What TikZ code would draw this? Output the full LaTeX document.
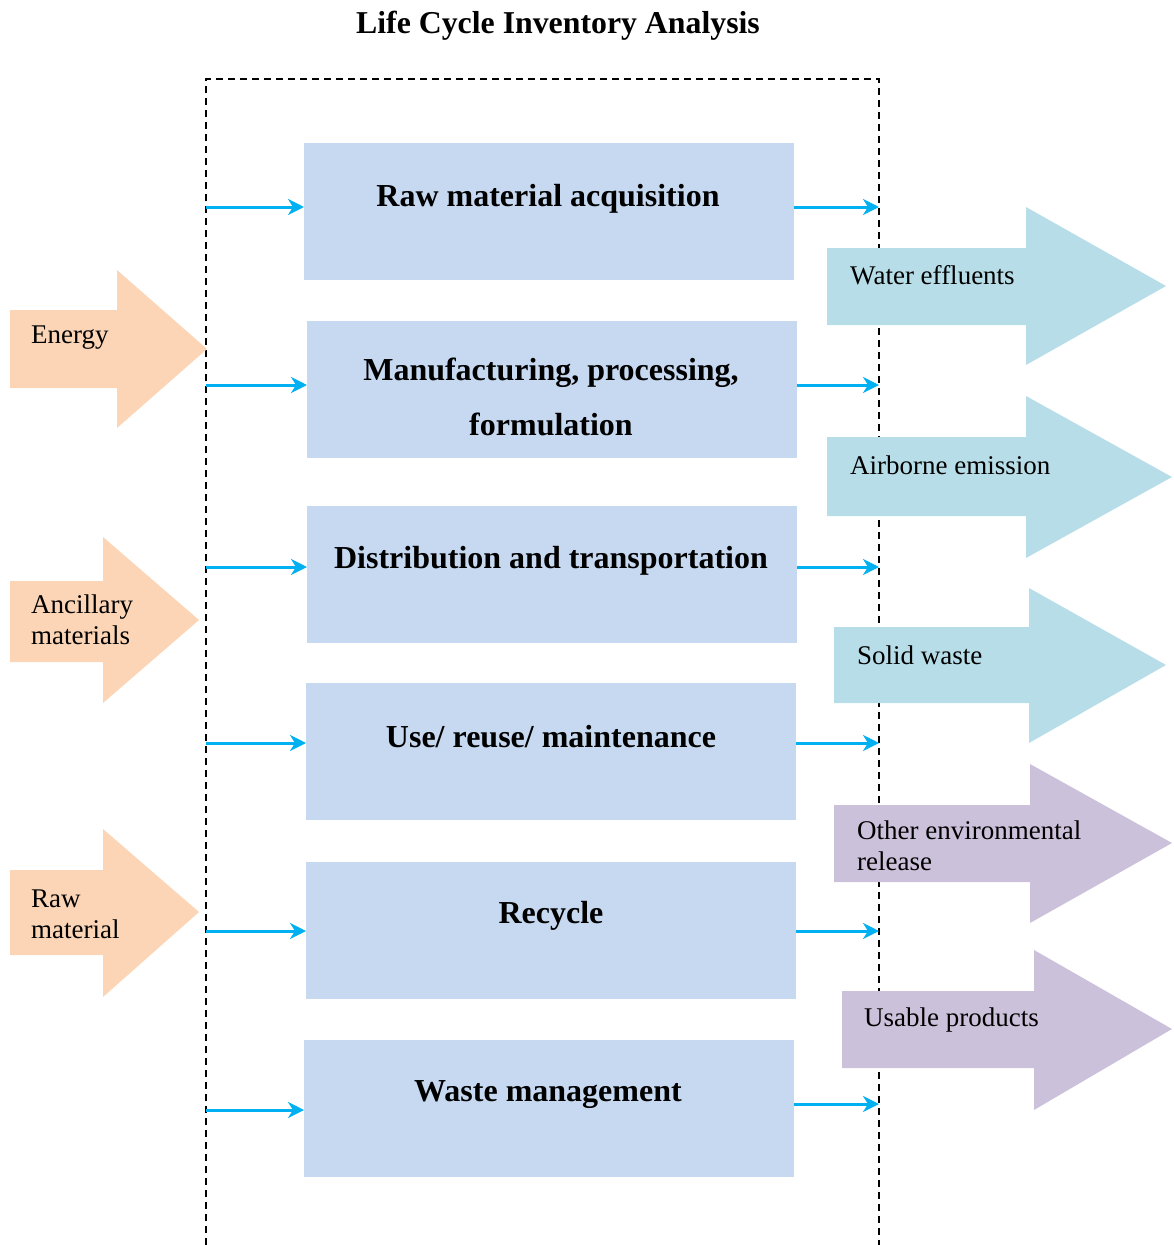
\documentclass[tikz,border=0pt]{standalone}
\usepackage{fontspec}
\setmainfont{Liberation Serif}
\usetikzlibrary{arrows.meta,calc}

\definecolor{boxfill}{HTML}{C6D9F1}
\definecolor{inflow}{HTML}{FBD5B5}
\definecolor{outflow}{HTML}{B7DDE8}
\definecolor{otherflow}{HTML}{CCC1DA}
\definecolor{flowline}{HTML}{00B0F0}

\begin{document}
\begin{tikzpicture}[x=1pt,y=-1pt,
  stage/.style={fill=boxfill, minimum width=490pt, minimum height=137pt, inner sep=0pt, anchor=north west},
  stagetext/.style={font=\fontsize{32}{55}\selectfont\bfseries, align=center, inner sep=0pt},
  feed/.style={-{Stealth[length=16pt,width=16pt,inset=5pt]}, draw=flowline, line width=3pt},
  frame/.style={draw=black, dash pattern=on 7pt off 5pt, line width=1.6pt},
  flowtext/.style={font=\fontsize{27}{31}\selectfont, align=left, anchor=west, inner sep=0pt}]
\useasboundingbox (0,0) rectangle (1174,1245);

% system boundary (open at the bottom)
\draw[frame] (206,1245) -- (206,79) -- (879,79) -- (879,1245);

% title
\node[font=\fontsize{31.8}{38}\selectfont\bfseries, inner sep=0pt] (title) at (558,26) {Life Cycle Inventory Analysis};

% life cycle stages
\node[stage] (s1) at (304,143) {};
\node[stage] (s2) at (307,321) {};
\node[stage] (s3) at (307,506) {};
\node[stage] (s4) at (306,683) {};
\node[stage] (s5) at (306,862) {};
\node[stage] (s6) at (304,1040) {};

\node[stagetext] (t1) at (548,199) {Raw material acquisition};
\node[stagetext] (t2) at (551,397) {Manufacturing, processing,\\formulation};
\node[stagetext] (t3) at (551,561) {Distribution and transportation};
\node[stagetext] (t4) at (551,737) {Use/ reuse/ maintenance};
\node[stagetext] (t5) at (551,916) {Recycle};
\node[stagetext] (t6) at (548,1095) {Waste management};

% inputs (left)
\fill[inflow] (10,310) -- (117,310) -- (117,270) -- (207,349) -- (117,428) -- (117,388) -- (10,388) -- cycle;
\node[flowtext] (energy) at (31,338) {Energy};
\fill[inflow] (10,581) -- (103,581) -- (103,537) -- (199,620) -- (103,703) -- (103,662) -- (10,662) -- cycle;
\node[flowtext] (ancillary) at (31,620) {Ancillary\\materials};
\fill[inflow] (10,870) -- (103,870) -- (103,829) -- (199,912) -- (103,997) -- (103,955) -- (10,955) -- cycle;
\node[flowtext] (rawmat) at (31,914) {Raw\\material};

% outputs (right)
\fill[outflow] (827,248) -- (1026,248) -- (1026,207) -- (1166,286) -- (1026,365) -- (1026,325) -- (827,325) -- cycle;
\node[flowtext] (water) at (850,275) {Water effluents};
\fill[outflow] (827,437) -- (1026,437) -- (1026,396) -- (1172,477) -- (1026,558) -- (1026,516) -- (827,516) -- cycle;
\node[flowtext] (air) at (850,465) {Airborne emission};
\fill[outflow] (834,627) -- (1029,627) -- (1029,588) -- (1166,665) -- (1029,743) -- (1029,703) -- (834,703) -- cycle;
\node[flowtext] (solid) at (857,655) {Solid waste};
\fill[otherflow] (834,805) -- (1030,805) -- (1030,764) -- (1172,843) -- (1030,923) -- (1030,882) -- (834,882) -- cycle;
\node[flowtext] (other) at (857,846) {Other environmental\\release};
\fill[otherflow] (842,991) -- (1034,991) -- (1034,950) -- (1172,1029) -- (1034,1110) -- (1034,1068) -- (842,1068) -- cycle;
\node[flowtext] (usable) at (864,1020) {Usable products};

% flow points on the boundary
\coordinate (in1) at (206,207);
\coordinate (in2) at (206,385);
\coordinate (in3) at (206,567);
\coordinate (in4) at (206,743);
\coordinate (in5) at (206,931);
\coordinate (in6) at (206,1110);
\coordinate (out1) at (879,207);
\coordinate (out2) at (879,385);
\coordinate (out3) at (879,567);
\coordinate (out4) at (879,743);
\coordinate (out5) at (879,931);
\coordinate (out6) at (879,1104);

% flows into and out of each stage
\foreach \i in {1,...,6}{
  \draw[feed] (in\i) -- (in\i -| s\i.west);
  \draw[feed] (out\i -| s\i.east) -- (out\i);
}
\end{tikzpicture}
\end{document}
